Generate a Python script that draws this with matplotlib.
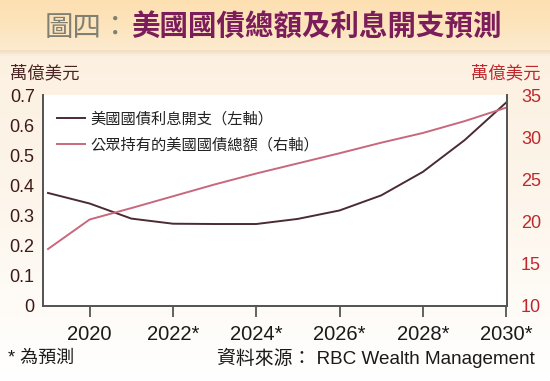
import numpy as np
import matplotlib
matplotlib.use("Agg")
import matplotlib.pyplot as plt
from matplotlib.colors import LinearSegmentedColormap

# ---- data ----
years = [2019, 2020, 2021, 2022, 2023, 2024, 2025, 2026, 2027, 2028, 2029, 2030]
interest = [0.375, 0.34, 0.29, 0.273, 0.272, 0.272, 0.289, 0.317, 0.367, 0.445, 0.55, 0.675]
debt = [16.75, 20.25, 21.6, 23.0, 24.4, 25.7, 26.9, 28.1, 29.35, 30.5, 31.9, 33.5]
xticks = [2020, 2022, 2024, 2026, 2028, 2030]
xticklabels = ["2020", "2022*", "2024*", "2026*", "2028*", "2030*"]
left_ticks = [0, 0.1, 0.2, 0.3, 0.4, 0.5, 0.6, 0.7]
left_labels = ["0", "0.1", "0.2", "0.3", "0.4", "0.5", "0.6", "0.7"]
right_ticks = [10, 15, 20, 25, 30, 35]
label_interest = "美國國債利息開支（左軸）"
label_debt = "公眾持有的美國國債總額（右軸）"

CJK = "Noto Sans CJK TC"
LAT = "Liberation Sans"
MIX = [LAT, CJK]

W, H = 550, 381
fig = plt.figure(figsize=(W / 100, H / 100), dpi=100)

# background gradient
bg = fig.add_axes([0, 0, 1, 1], zorder=-10)
bg.set_axis_off()
grad = np.linspace(0, 1, 256).reshape(-1, 1)
cmap_bg = LinearSegmentedColormap.from_list("bg", ["#fcefdd", "#fdf5ea", "#ffffff"])
bg.imshow(grad, aspect="auto", cmap=cmap_bg, extent=[0, 1, 0, 1], origin="upper")
bg.set_xlim(0, 1)
bg.set_ylim(0, 1)
# title banner
ban = np.linspace(0, 1, 64).reshape(-1, 1)
cmap_ban = LinearSegmentedColormap.from_list("ban", ["#fde0b2", "#fde4bc", "#fcebd0"])
bg.imshow(ban, aspect="auto", cmap=cmap_ban, extent=[0, 1, 1 - 50 / H, 1], origin="upper")
shadow = np.linspace(0, 1, 32).reshape(-1, 1)
cmap_sh = LinearSegmentedColormap.from_list("sh", ["#f3dcc0", "#fcefdd"])
bg.imshow(shadow, aspect="auto", cmap=cmap_sh, extent=[0, 1, 1 - 56 / H, 1 - 50 / H], origin="upper")

# main axes
ax = fig.add_axes([43 / W, 1 - 306 / H, (507 - 43) / W, (306 - 95) / H])
ax.set_facecolor("white")
ax2 = ax.twinx()

l1, = ax.plot(years, interest, color="#4b2b32", lw=1.4, label=label_interest)
l2, = ax2.plot(years, debt, color="#c8687c", lw=1.4, label=label_debt)

ax.set_xlim(2018.88, 2030.02)
ax.set_ylim(0, 0.7)
ax2.set_ylim(10, 35)

ax.set_xticks(xticks)
ax.set_xticklabels(xticklabels, fontfamily=LAT, fontsize=14.5, color="#1a1a1a")
ax.set_yticks(left_ticks)
ax.set_yticklabels(left_labels, fontfamily=LAT, fontsize=13, color="#3e1a1a")
ax2.set_yticks(right_ticks)
ax2.set_yticklabels([str(t) for t in right_ticks], fontfamily=LAT, fontsize=13, color="#c0272d")

ax.tick_params(axis="x", direction="out", length=8, width=1.3, color="#555555", pad=6)
ax.tick_params(axis="y", length=0, pad=6)
ax2.tick_params(axis="y", length=0, pad=10)

for a in (ax, ax2):
    a.spines["top"].set_visible(False)
    for s in ("left", "right", "bottom"):
        a.spines[s].set_color("#555555")
        a.spines[s].set_linewidth(1.3)

leg = ax.legend(handles=[l1, l2], loc="upper left", bbox_to_anchor=(0.030, 0.92),
                frameon=False, prop={"family": MIX, "size": 11},
                borderpad=0, borderaxespad=0,
                handlelength=1.85, handletextpad=0.35, labelspacing=0.75)
for t in leg.get_texts():
    t.set_color("#222222")

# unit labels
fig.text(10 / W, 1 - 73 / H, "萬億美元", family=CJK, fontsize=12.5, color="#4a2424",
         ha="left", va="center")
fig.text(540 / W, 1 - 73 / H, "萬億美元", family=CJK, fontsize=12.5, color="#c0272d",
         ha="right", va="center")

# title
fig.text(45 / W, 1 - 28 / H, "圖四：", family=CJK, fontsize=20.5, color="#7f7f72",
         ha="left", va="center", fontweight="medium")
fig.text(131 / W, 1 - 28 / H, "美國國債總額及利息開支預測", family=CJK, fontsize=20.5,
         color="#7b1d5b", ha="left", va="center", fontweight="bold")

# footer
fig.text(8 / W, 1 - 358 / H, "* 為預測", family=MIX, fontsize=13, color="#1a1a1a",
         ha="left", va="center")
fig.text(535 / W, 1 - 358 / H, "資料來源： RBC Wealth Management", family=MIX, fontsize=13.6,
         color="#1a1a1a", ha="right", va="center")

fig.savefig("out.png", dpi=100)
